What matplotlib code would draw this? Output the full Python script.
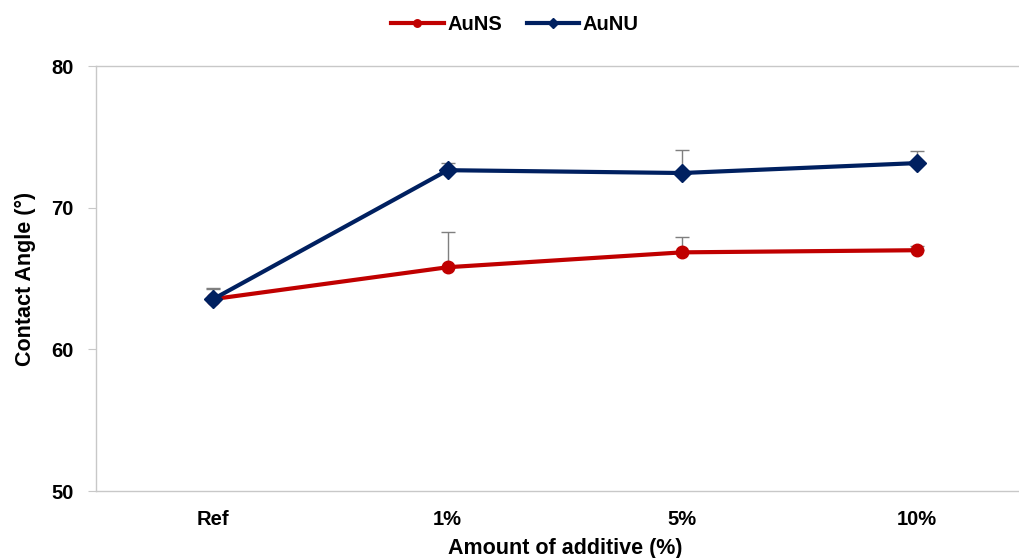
import numpy as np
import matplotlib.pyplot as plt

plt.rcParams['font.family'] = ['Liberation Sans', 'DejaVu Sans']
plt.rcParams['font.weight'] = 'bold'

# 데이터
categories = ['Ref', '1%', '5%', '10%']
auns = [63.55, 65.8, 66.85, 67.0]
auns_err = [0.75, 2.5, 1.05, 0.3]
aunu = [63.55, 72.65, 72.45, 73.15]
aunu_err = [0.7, 0.5, 1.65, 0.85]

x = np.arange(len(categories))

fig = plt.figure(figsize=(10.2, 5.58), dpi=100)
ax = fig.add_axes([0.0941, 0.120, 0.9196, 0.7616])

ax.errorbar(x, auns, yerr=[np.zeros(len(x)), auns_err], fmt='none',
            ecolor='#7f7f7f', elinewidth=1, capsize=5, capthick=1, zorder=2)
ax.errorbar(x, aunu, yerr=[np.zeros(len(x)), aunu_err], fmt='none',
            ecolor='#7f7f7f', elinewidth=1, capsize=5, capthick=1, zorder=2)
ax.plot(x, auns, color='#C00000', lw=3, marker='o', ms=9, label='AuNS', zorder=3)
ax.plot(x, aunu, color='#002060', lw=3, marker='D', ms=9, label='AuNU', zorder=4)

ax.set_xlim(-0.5, 3.5)
ax.set_ylim(50, 80)
ax.set_yticks([50, 60, 70, 80])
ax.set_xticks(x)
ax.set_xticklabels(categories)

ax.spines['right'].set_visible(False)
for s in ['left', 'bottom', 'top']:
    ax.spines[s].set_color('#c8c8c8')
    ax.spines[s].set_linewidth(1)

ax.tick_params(axis='y', length=6, color='#c8c8c8', labelsize=14.5, pad=10)
ax.tick_params(axis='x', length=0, labelsize=14.5, pad=14)

ax.set_xlabel('Amount of additive (%)', fontsize=15.5, fontweight='bold', labelpad=6)
ax.set_ylabel('Contact Angle (°)', fontsize=15.5, fontweight='bold', labelpad=11)

fig.legend(loc='upper center', bbox_to_anchor=(0.505, 1.005), ncol=2, frameon=False,
           fontsize=14.5, handlelength=2.6, markerscale=0.6, columnspacing=1.2,
           handletextpad=0.2)

fig.savefig('out.png', dpi=100)
